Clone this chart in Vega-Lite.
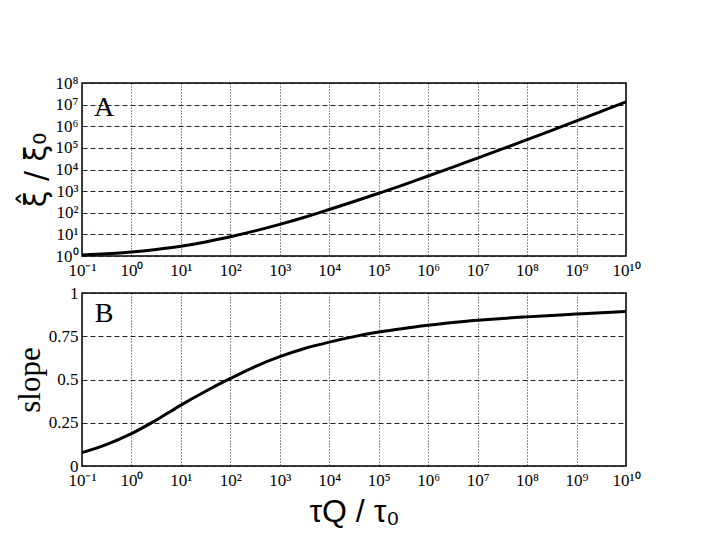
{
  "$schema": "https://vega.github.io/schema/vega-lite/v6.json",
  "background": "white",
  "padding": {"left": 13, "top": 73, "right": 5, "bottom": 5},
  "spacing": 4,
  "config": {
    "view": {"stroke": "black", "strokeWidth": 1.5},
    "axis": {
      "labelFont": "Liberation Serif",
      "labelFontSize": 17,
      "labelColor": "black",
      "domain": false,
      "ticks": false,
      "labelPadding": 4,
      "gridColor": "#222",
      "gridWidth": 1,
      "gridOpacity": 1
    }
  },
  "datasets": {
    "a": [
      {"tau": 0.1, "xi": 1.122},
      {"tau": 0.3162, "xi": 1.259},
      {"tau": 1, "xi": 1.514},
      {"tau": 3.162, "xi": 1.995},
      {"tau": 10, "xi": 2.818},
      {"tau": 31.62, "xi": 4.467},
      {"tau": 100, "xi": 7.762},
      {"tau": 316.2, "xi": 14.45},
      {"tau": 1000, "xi": 28.84},
      {"tau": 3162, "xi": 61.66},
      {"tau": 10000, "xi": 141.3},
      {"tau": 31623, "xi": 331.1},
      {"tau": 100000, "xi": 794.3},
      {"tau": 316228, "xi": 1950},
      {"tau": 1000000, "xi": 5012},
      {"tau": 3162278, "xi": 12882},
      {"tau": 10000000, "xi": 33884},
      {"tau": 31622777, "xi": 89125},
      {"tau": 100000000, "xi": 239883},
      {"tau": 316227766, "xi": 645654},
      {"tau": 1000000000, "xi": 1778279},
      {"tau": 3162277660, "xi": 4897788},
      {"tau": 10000000000, "xi": 13489628}
    ],
    "b": [
      {"tau": 0.1, "slope": 0.077},
      {"tau": 0.3162, "slope": 0.125},
      {"tau": 1, "slope": 0.187},
      {"tau": 3.162, "slope": 0.265},
      {"tau": 10, "slope": 0.352},
      {"tau": 31.62, "slope": 0.432},
      {"tau": 100, "slope": 0.506},
      {"tau": 316.2, "slope": 0.575},
      {"tau": 1000, "slope": 0.632},
      {"tau": 3162, "slope": 0.679},
      {"tau": 10000, "slope": 0.716},
      {"tau": 31623, "slope": 0.748},
      {"tau": 100000, "slope": 0.774},
      {"tau": 316228, "slope": 0.795},
      {"tau": 1000000, "slope": 0.813},
      {"tau": 3162278, "slope": 0.829},
      {"tau": 10000000, "slope": 0.842},
      {"tau": 31622777, "slope": 0.853},
      {"tau": 100000000, "slope": 0.862},
      {"tau": 316227766, "slope": 0.87},
      {"tau": 1000000000, "slope": 0.878},
      {"tau": 3162277660, "slope": 0.886},
      {"tau": 10000000000, "slope": 0.893}
    ],
    "labA": [{"tau": 0.28, "xi": 7000000, "label": "A"}],
    "labB": [{"tau": 0.28, "slope": 0.876, "label": "B"}]
  },
  "vconcat": [
    {
      "width": 544,
      "height": 173,
      "layer": [
        {
          "data": {"name": "a"},
          "mark": {"type": "line", "color": "black", "strokeWidth": 3, "interpolate": "monotone"},
          "encoding": {
            "x": {
              "field": "tau", "type": "quantitative",
              "scale": {"type": "log", "domain": [0.1, 10000000000], "nice": false},
              "axis": {
                "title": null,
                "labelPadding": 6,
                "values": [0.1, 1, 10, 100, 1000, 10000, 100000, 1000000, 10000000, 100000000, 1000000000, 10000000000],
                "labelExpr": "['10⁻¹','10⁰','10¹','10²','10³','10⁴','10⁵','10⁶','10⁷','10⁸','10⁹','10¹⁰'][round(log(datum.value)/LN10)+1]",
                "gridDash": [1, 2],
                "labelFlush": false,
                "labelOverlap": false
              }
            },
            "y": {
              "field": "xi", "type": "quantitative",
              "scale": {"type": "log", "domain": [1, 100000000], "nice": false},
              "axis": {
                "title": "ξ̂ / ξ₀",
                "titleFont": "DejaVu Sans",
                "titleFontSize": 30,
                "titleFontWeight": "normal",
                "titleColor": "black",
                "titlePadding": 4,
                "values": [1, 10, 100, 1000, 10000, 100000, 1000000, 10000000, 100000000],
                "labelExpr": "['10⁰','10¹','10²','10³','10⁴','10⁵','10⁶','10⁷','10⁸'][round(log(datum.value)/LN10)]",
                "gridDash": [5, 3],
                "labelFlush": false,
                "labelOverlap": false
              }
            }
          }
        },
        {
          "data": {"name": "labA"},
          "mark": {"type": "text", "font": "Liberation Serif", "fontSize": 28, "color": "black"},
          "encoding": {
            "x": {"field": "tau", "type": "quantitative"},
            "y": {"field": "xi", "type": "quantitative"},
            "text": {"field": "label"}
          }
        }
      ]
    },
    {
      "width": 544,
      "height": 173,
      "layer": [
        {
          "data": {"name": "b"},
          "mark": {"type": "line", "color": "black", "strokeWidth": 3, "interpolate": "monotone"},
          "encoding": {
            "x": {
              "field": "tau", "type": "quantitative",
              "scale": {"type": "log", "domain": [0.1, 10000000000], "nice": false},
              "axis": {
                "title": "τQ / τ₀",
                "titleFont": "Liberation Sans",
                "titleFontSize": 32,
                "titleFontWeight": "normal",
                "titleColor": "black",
                "titlePadding": 8,
                "labelPadding": 6,
                "values": [0.1, 1, 10, 100, 1000, 10000, 100000, 1000000, 10000000, 100000000, 1000000000, 10000000000],
                "labelExpr": "['10⁻¹','10⁰','10¹','10²','10³','10⁴','10⁵','10⁶','10⁷','10⁸','10⁹','10¹⁰'][round(log(datum.value)/LN10)+1]",
                "gridDash": [1, 2],
                "labelFlush": false,
                "labelOverlap": false
              }
            },
            "y": {
              "field": "slope", "type": "quantitative",
              "scale": {"domain": [0, 1], "nice": false},
              "axis": {
                "title": "slope",
                "titleFont": "Liberation Serif",
                "titleFontSize": 31,
                "titleFontWeight": "normal",
                "titleColor": "black",
                "titlePadding": 2,
                "values": [0, 0.25, 0.5, 0.75, 1],
                "labelExpr": "format(datum.value, '.2~f')",
                "gridDash": [5, 3],
                "labelFlush": false,
                "labelOverlap": false
              }
            }
          }
        },
        {
          "data": {"name": "labB"},
          "mark": {"type": "text", "font": "Liberation Serif", "fontSize": 28, "color": "black"},
          "encoding": {
            "x": {"field": "tau", "type": "quantitative"},
            "y": {"field": "slope", "type": "quantitative"},
            "text": {"field": "label"}
          }
        }
      ]
    }
  ]
}
